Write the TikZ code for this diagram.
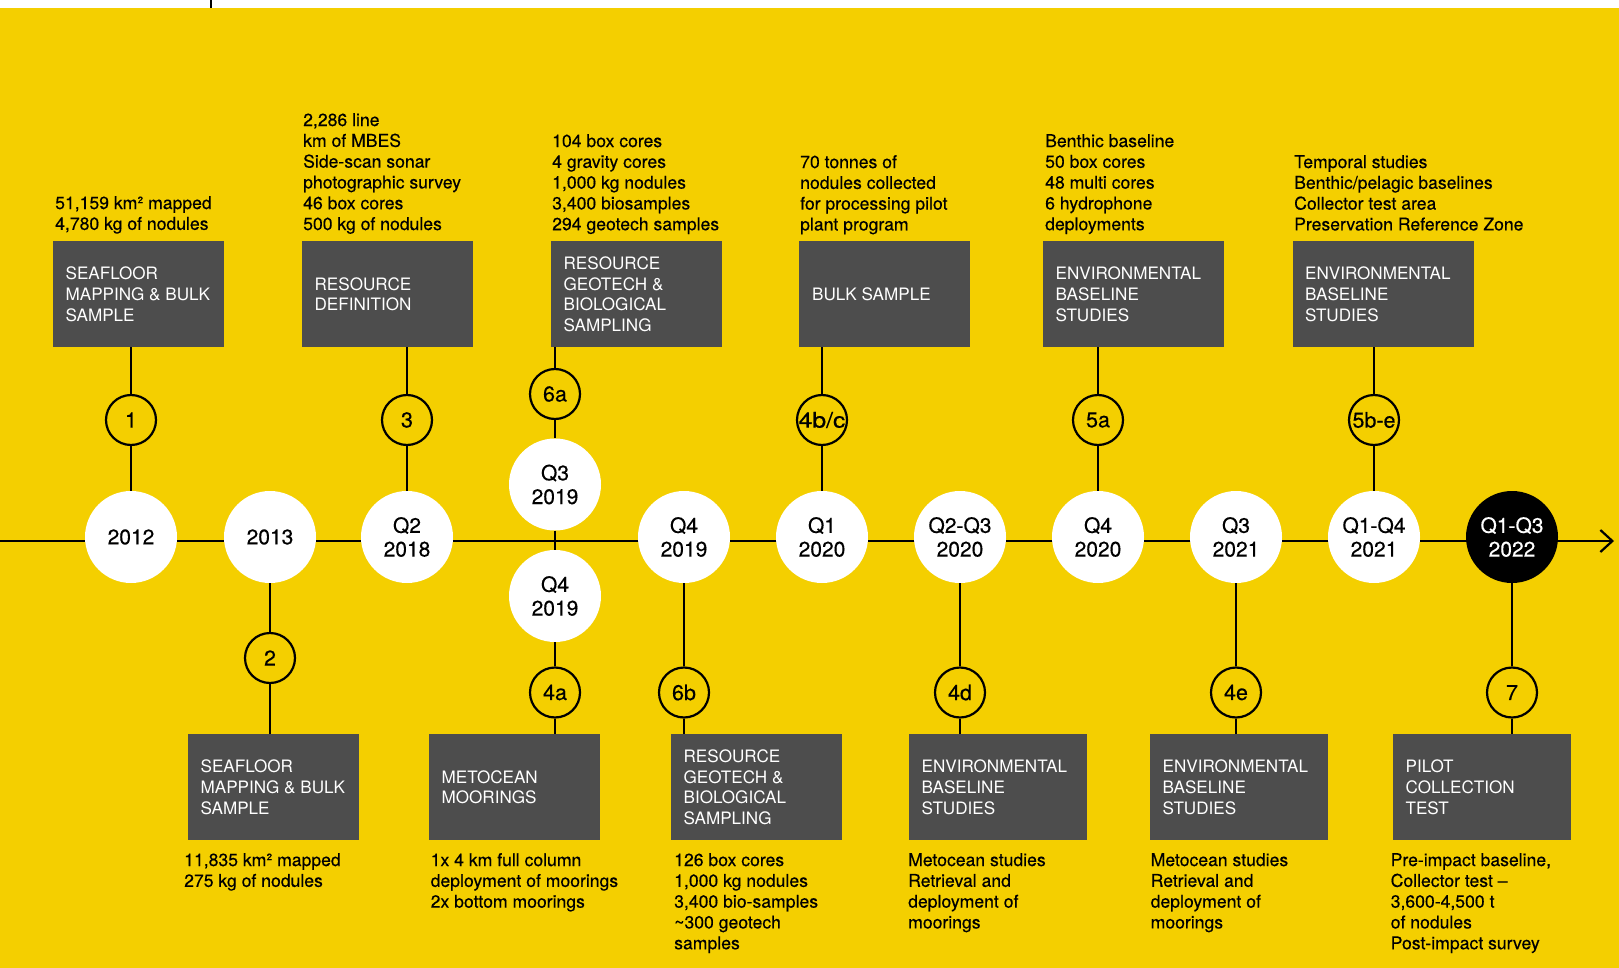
\documentclass[tikz,border=0pt]{standalone}
\usepackage{fontspec}
\usepackage{graphicx}
\setmainfont{TeX Gyre Heros}
\newfontfamily\medfont[FakeBold=0.35]{TeX Gyre Heros}
\usetikzlibrary{arrows.meta,calc}
\definecolor{bgyellow}{HTML}{F4CF00}
\definecolor{boxgray}{HTML}{4D4D4D}
\begin{document}
\begin{tikzpicture}[x=1pt,y=-1pt,
  yearc/.style={circle, fill=white, minimum size=92pt, inner sep=0pt, align=center, font=\medfont\fontsize{21}{23.7}\selectfont},
  numc/.style={circle, draw=black, line width=2.2pt, minimum size=50pt, inner sep=0pt, font=\medfont\fontsize{21.5}{24}\selectfont},
  gbox/.style={rectangle, fill=boxgray, inner sep=0pt, anchor=north west, minimum height=106pt},
  gtext/.style={anchor=west, inner sep=0pt, align=left, text=white, font=\fontsize{17.1}{20.8}\selectfont},
  note/.style={anchor=north west, inner sep=0pt, align=left, font=\medfont\fontsize{17.6}{20.8}\selectfont},
  conn/.style={line width=2.2pt}
]
\useasboundingbox (0,0) rectangle (1619,968);
\fill[white] (0,0) rectangle (1619,968);
\fill[bgyellow] (0,8) rectangle (1619,968);
\coordinate (tk1) at (211,0);
\coordinate (tk2) at (211,8);
\draw[line width=2pt] (tk1) -- (tk2);

% timeline
\coordinate (tls) at (0,541);
\coordinate (tle) at (1614,541);
\draw[conn, -{Straight Barb[length=12pt,width=22pt]}] (tls) -- (tle);

% year circles
\node[yearc] (y2012) at (131,537) {2012};
\node[yearc] (y2013) at (270,537) {2013};
\node[yearc] (q218) at (407,537) {Q2\\2018};
\node[yearc] (q319) at (555,484.5) {Q3\\2019};
\node[yearc] (q419b) at (555,596) {Q4\\2019};
\node[yearc] (q419) at (684,537) {Q4\\2019};
\node[yearc] (q120) at (822,537) {Q1\\2020};
\node[yearc] (q2320) at (960,537) {Q2-Q3\\2020};
\node[yearc] (q420) at (1098,537) {Q4\\2020};
\node[yearc] (q321) at (1236,537) {Q3\\2021};
\node[yearc] (q1421) at (1374,537) {Q1-Q4\\2021};
\node[yearc, fill=black, text=white] (q1322) at (1512,537) {Q1-Q3\\2022};

% numbered circles
\node[numc] (n1) at (131,420) {1};
\node[numc] (n3) at (407,420) {3};
\node[numc] (n6a) at (555,394) {6a};
\node[numc] (n4bc) at (822,420) {\scalebox{1.15}[1]{4b/c}};
\node[numc] (n5a) at (1098,420) {5a};
\node[numc] (n5be) at (1374,420) {5b-e};
\node[numc] (n2) at (270,658) {2};
\node[numc] (n4a) at (555,692.5) {4a};
\node[numc] (n6b) at (684,692.5) {6b};
\node[numc] (n4d) at (960,692.5) {4d};
\node[numc] (n4e) at (1236,692.5) {4e};
\node[numc] (n7) at (1512,692.5) {7};

% upper boxes
\node[gbox, minimum width=171pt] (b1) at (53,241) {};
\node[gbox, minimum width=171pt] (b3) at (302,241) {};
\node[gbox, minimum width=171pt] (b6a) at (551,241) {};
\node[gbox, minimum width=171pt] (bbulk) at (799,241) {};
\node[gbox, minimum width=181pt] (b5a) at (1043,241) {};
\node[gbox, minimum width=181pt] (b5be) at (1292.5,241) {};
% lower boxes
\node[gbox, minimum width=171pt] (b2) at (188,734) {};
\node[gbox, minimum width=171pt] (b4a) at (429,734) {};
\node[gbox, minimum width=171pt] (b6b) at (671,734) {};
\node[gbox, minimum width=178pt] (b4d) at (909,734) {};
\node[gbox, minimum width=178pt] (b4e) at (1150,734) {};
\node[gbox, minimum width=178pt] (b7) at (1393,734) {};

% box labels
\node[gtext] (t1) at ([xshift=12.4pt]b1.west) {SEAFLOOR\\MAPPING \& BULK\\SAMPLE};
\node[gtext] (t3) at ([xshift=12.4pt]b3.west) {RESOURCE\\DEFINITION};
\node[gtext] (t6a) at ([xshift=12.4pt]b6a.west) {RESOURCE\\GEOTECH \&\\BIOLOGICAL\\SAMPLING};
\node[gtext] (tbulk) at ([xshift=13pt]bbulk.west) {BULK SAMPLE};
\node[gtext] (t5a) at ([xshift=12.4pt]b5a.west) {ENVIRONMENTAL\\BASELINE\\STUDIES};
\node[gtext] (t5be) at ([xshift=12.4pt]b5be.west) {ENVIRONMENTAL\\BASELINE\\STUDIES};
\node[gtext] (t2) at ([xshift=12.4pt]b2.west) {SEAFLOOR\\MAPPING \& BULK\\SAMPLE};
\node[gtext] (t4a) at ([xshift=12.4pt]b4a.west) {METOCEAN\\MOORINGS};
\node[gtext] (t6b) at ([xshift=12.4pt]b6b.west) {RESOURCE\\GEOTECH \&\\BIOLOGICAL\\SAMPLING};
\node[gtext] (t4d) at ([xshift=12.4pt]b4d.west) {ENVIRONMENTAL\\BASELINE\\STUDIES};
\node[gtext] (t4e) at ([xshift=12.4pt]b4e.west) {ENVIRONMENTAL\\BASELINE\\STUDIES};
\node[gtext] (t7) at ([xshift=12.4pt]b7.west) {PILOT\\COLLECTION\\TEST};

% notes above
\node[note] (a1) at (55,196) {51,159 km² mapped\\4,780 kg of nodules};
\node[note] (a3) at (303,113) {2,286 line\\km of MBES\\Side-scan sonar\\photographic survey\\46 box cores\\500 kg of nodules};
\node[note] (a6a) at (552,134) {104 box cores\\4 gravity cores\\1,000 kg nodules\\3,400 biosamples\\294 geotech samples};
\node[note] (abulk) at (800,155) {70 tonnes of\\nodules collected\\for processing pilot\\plant program};
\node[note] (a5a) at (1045,134) {Benthic baseline\\50 box cores\\48 multi cores\\6 hydrophone\\deployments};
\node[note] (a5be) at (1294,155) {Temporal studies\\Benthic/pelagic baselines\\Collector test area\\Preservation Reference Zone};
% notes below
\node[note] (a2) at (184,853) {11,835 km² mapped\\275 kg of nodules};
\node[note] (a4a) at (430.5,853) {1x 4 km full column\\deployment of moorings\\2x bottom moorings};
\node[note] (a6b) at (674,853) {126 box cores\\1,000 kg nodules\\3,400 bio-samples\\\textasciitilde300 geotech\\samples};
\node[note] (a4d) at (908,853) {Metocean studies\\Retrieval and\\deployment of\\moorings};
\node[note] (a4e) at (1150.5,853) {Metocean studies\\Retrieval and\\deployment of\\moorings};
\node[note] (a7) at (1390.5,853) {Pre-impact baseline,\\Collector test –\\3,600-4,500 t\\of nodules\\Post-impact survey};

% connectors above
\draw[conn] (n1 |- b1.south) -- (n1);
\draw[conn] (n1) -- (y2012);
\draw[conn] (n3 |- b3.south) -- (n3);
\draw[conn] (n3) -- (q218);
\draw[conn] (n6a |- b6a.south) -- (n6a);
\draw[conn] (n6a) -- (q319);
\draw[conn] (q319) -- (q419b);
\draw[conn] (q419b) -- (n4a);
\draw[conn] (n4a) -- (n4a |- b4a.north);
\draw[conn] (n4bc |- bbulk.south) -- (n4bc);
\draw[conn] (n4bc) -- (q120);
\draw[conn] (n5a |- b5a.south) -- (n5a);
\draw[conn] (n5a) -- (q420);
\draw[conn] (n5be |- b5be.south) -- (n5be);
\draw[conn] (n5be) -- (q1421);
% connectors below
\draw[conn] (y2013) -- (n2);
\draw[conn] (n2) -- (n2 |- b2.north);
\draw[conn] (q419) -- (n6b);
\draw[conn] (n6b) -- (n6b |- b6b.north);
\draw[conn] (q2320) -- (n4d);
\draw[conn] (n4d) -- (n4d |- b4d.north);
\draw[conn] (q321) -- (n4e);
\draw[conn] (n4e) -- (n4e |- b4e.north);
\draw[conn] (q1322) -- (n7);
\draw[conn] (n7) -- (n7 |- b7.north);
\end{tikzpicture}
\end{document}
